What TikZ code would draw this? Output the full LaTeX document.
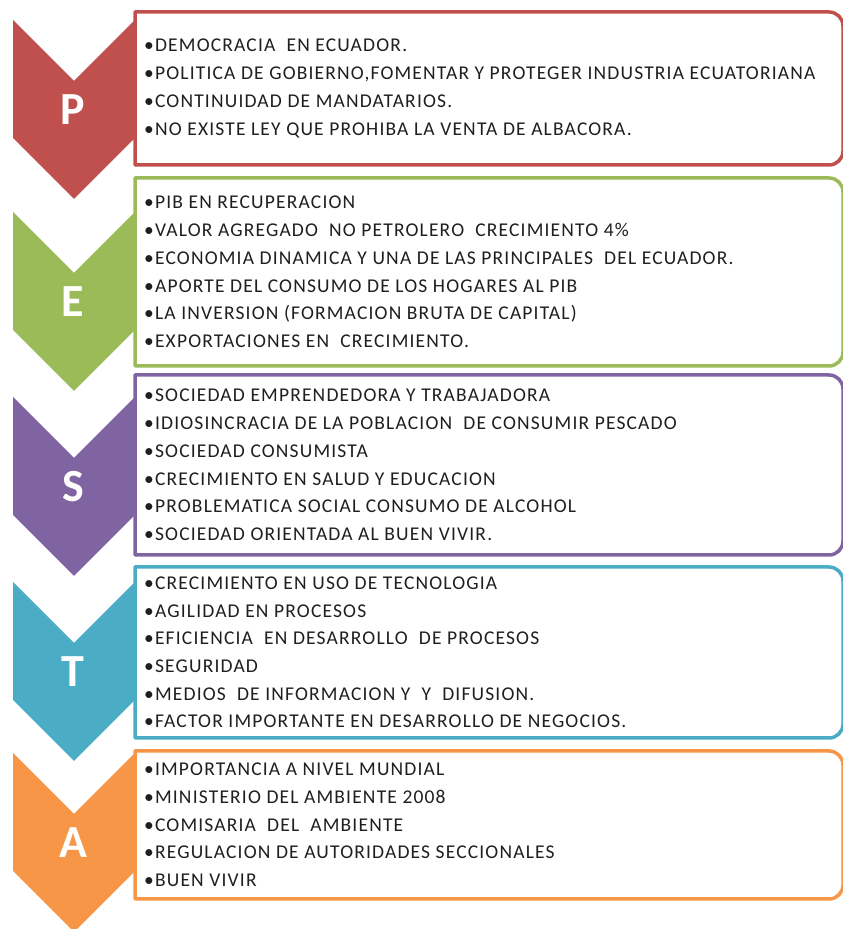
\documentclass[tikz,border=0pt]{standalone}
\usepackage{fontspec}
\setmainfont{Carlito}
\newfontfamily\itemfont[LetterSpace=6]{Carlito}
\usetikzlibrary{positioning}

\definecolor{pestred}{HTML}{C0504D}
\definecolor{pestgreen}{HTML}{9BBB59}
\definecolor{pestpurple}{HTML}{8064A2}
\definecolor{pestaqua}{HTML}{4BACC6}
\definecolor{pestorange}{HTML}{F79646}

\begin{document}
\begin{tikzpicture}[x=1pt,y=1pt,
  frame/.style={draw=#1,line width=3.5pt,fill=white,line join=round},
  letter/.style={text=white,inner sep=0pt,font=\fontsize{46}{46}\selectfont\bfseries},
  items/.style={anchor=west,align=left,inner sep=0pt,text=black!88,
    font=\itemfont\fontsize{19.5}{27.7}\selectfont}]
  \useasboundingbox (0,0) rectangle (843,929);

  % chevrons
  \fill[pestred,shift={(0,909)}] (13,0) -- (74,-61) -- (135,0) -- (135,-118) -- (74,-179) -- (13,-118) -- cycle;
  \fill[pestgreen,shift={(0,717)}] (13,0) -- (74,-61) -- (135,0) -- (135,-118) -- (74,-179) -- (13,-118) -- cycle;
  \fill[pestpurple,shift={(0,532)}] (13,0) -- (74,-61) -- (135,0) -- (135,-118) -- (74,-179) -- (13,-118) -- cycle;
  \fill[pestaqua,shift={(0,347)}] (13,0) -- (74,-61) -- (135,0) -- (135,-118) -- (74,-179) -- (13,-118) -- cycle;
  \fill[pestorange,shift={(0,176)}] (13,0) -- (74,-61) -- (135,0) -- (135,-118) -- (74,-179) -- (13,-118) -- cycle;

  \node[letter] (letP) at (73,819.5) {P};
  \node[letter] (letE) at (73,627.5) {E};
  \node[letter] (letS) at (73,442.5) {S};
  \node[letter] (letT) at (73,257.5) {T};
  \node[letter] (letA) at (73,86.5) {A};

  % boxes, square on the left, round on the right
  \draw[frame=pestred] (135,764) -- (135,917) -- (829,917) arc[start angle=90,end angle=0,radius=14]
    -- (843,778) arc[start angle=0,end angle=-90,radius=14] -- cycle;
  \draw[frame=pestgreen] (135,563) -- (135,751) -- (829,751) arc[start angle=90,end angle=0,radius=14]
    -- (843,577) arc[start angle=0,end angle=-90,radius=14] -- cycle;
  \draw[frame=pestpurple] (135,374) -- (135,554) -- (829,554) arc[start angle=90,end angle=0,radius=14]
    -- (843,388) arc[start angle=0,end angle=-90,radius=14] -- cycle;
  \draw[frame=pestaqua] (135,191) -- (135,362) -- (829,362) arc[start angle=90,end angle=0,radius=14]
    -- (843,205) arc[start angle=0,end angle=-90,radius=14] -- cycle;
  \draw[frame=pestorange] (135,30) -- (135,178) -- (829,178) arc[start angle=90,end angle=0,radius=14]
    -- (843,44) arc[start angle=0,end angle=-90,radius=14] -- cycle;

  \node[items] (listP) at (144,840.5) {%
    •DEMOCRACIA\ \ EN ECUADOR.\\
    •POLITICA DE GOBIERNO,FOMENTAR Y PROTEGER INDUSTRIA ECUATORIANA\\
    •CONTINUIDAD DE MANDATARIOS.\\
    •NO EXISTE LEY QUE PROHIBA LA VENTA DE ALBACORA.};
  \node[items] (listE) at (144,657) {%
    •PIB EN RECUPERACION\\
    •VALOR AGREGADO\ \ NO PETROLERO\ \ CRECIMIENTO 4\%\\
    •ECONOMIA DINAMICA Y UNA DE LAS PRINCIPALES\ \ DEL ECUADOR.\\
    •APORTE DEL CONSUMO DE LOS HOGARES AL PIB\\
    •LA INVERSION (FORMACION BRUTA DE CAPITAL)\\
    •EXPORTACIONES EN\ \ CRECIMIENTO.};
  \node[items] (listS) at (144,464) {%
    •SOCIEDAD EMPRENDEDORA Y TRABAJADORA\\
    •IDIOSINCRACIA DE LA POBLACION\ \ DE CONSUMIR PESCADO\\
    •SOCIEDAD CONSUMISTA\\
    •CRECIMIENTO EN SALUD Y EDUCACION\\
    •PROBLEMATICA SOCIAL CONSUMO DE ALCOHOL\\
    •SOCIEDAD ORIENTADA AL BUEN VIVIR.};
  \node[items] (listT) at (144,276.5) {%
    •CRECIMIENTO EN USO DE TECNOLOGIA\\
    •AGILIDAD EN PROCESOS\\
    •EFICIENCIA\ \ EN DESARROLLO\ \ DE PROCESOS\\
    •SEGURIDAD\\
    •MEDIOS\ \ DE INFORMACION Y\ \ Y\ \ DIFUSION.\\
    •FACTOR IMPORTANTE EN DESARROLLO DE NEGOCIOS.};
  \node[items] (listA) at (144,104) {%
    •IMPORTANCIA A NIVEL MUNDIAL\\
    •MINISTERIO DEL AMBIENTE 2008\\
    •COMISARIA\ \ DEL\ \ AMBIENTE\\
    •REGULACION DE AUTORIDADES SECCIONALES\\
    •BUEN VIVIR};
\end{tikzpicture}
\end{document}
